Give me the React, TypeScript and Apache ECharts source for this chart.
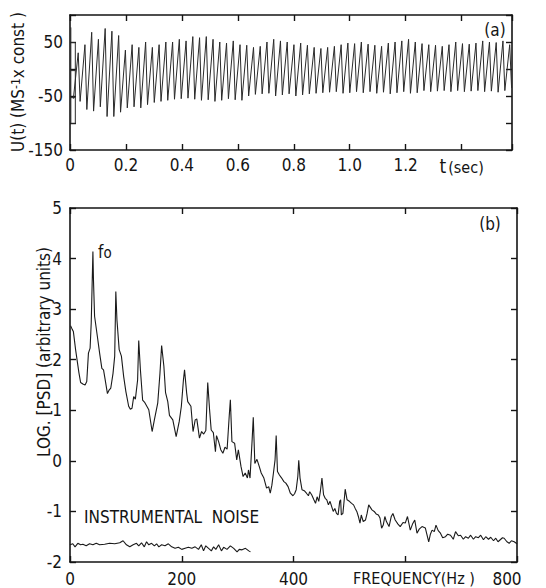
import React, { useEffect, useRef } from "react";
import * as echarts from "echarts";

// ---- Panel (a): time signal U(t) ----
const SIGNAL_PERIOD = 0.0241; // s (f0 ≈ 41 Hz)
const SIGNAL_START = 0.012; // s
const cyclePeaks = [30, 45, 68, 55, 75, 70, 62, 35, 45, 40, 50, 40, 45, 50, 50, 55, 52, 60, 58, 60, 55, 50, 48, 52, 45, 44, 40, 42, 50, 55, 52, 50, 45, 48, 44, 40, 38, 40, 42, 45, 48, 47, 50, 46, 44, 42, 48, 50, 52, 55, 50, 47, 45, 44, 42, 45, 50, 47, 46, 48, 52, 50, 49, 52, 45];
const cycleTroughs = [-55, -60, -75, -78, -70, -88, -88, -80, -72, -70, -72, -66, -62, -60, -58, -56, -55, -54, -56, -58, -57, -60, -58, -55, -57, -58, -50, -47, -46, -45, -50, -48, -46, -50, -48, -46, -45, -44, -43, -42, -45, -44, -42, -44, -42, -45, -43, -46, -44, -42, -45, -44, -40, -42, -41, -40, -42, -40, -42, -41, -40, -42, -41, -43, -40, -35];
const calibrationBox: any[] = [[0.003, 77], [0.003, -101], [0.019, -101], [0.019, 49], [0.003, 49], "-", [0.003, -3], [0.019, -3], "-", [0.003, -53], [0.019, -53]];
const timeTickLabels = ["0", "0.2", "0.4", "0.6", "0.8", "1.0", "1.2"];
const signalYLabels = [50, -50, -150];

// ---- Panel (b): LOG[PSD] spectrum ----
const spectrum: number[][] = [
  [1, 2.67], [4, 2.6], [6, 2.56], [10, 2.2], [16, 1.74], [19, 1.55], [23, 1.52], [27, 1.5], [30, 1.57], [33, 2.13], [36, 2.23], [38, 2.73], [41, 4.14], [42, 3.58], [44, 2.86], [49, 2.46], [53, 2.13], [57, 1.83], [60, 1.8], [63, 1.6], [67, 1.33], [70, 1.4], [73, 1.44], [77, 1.73], [80, 2.07], [82, 3.35], [84, 2.79], [88, 2.2], [92, 2.07], [96, 1.67], [100, 1.37], [105, 1.08], [108, 1.02], [111, 1.04], [114, 1.27], [117, 1.22], [121, 1.6], [123, 2.38], [126, 1.8], [130, 1.2], [134, 1.15], [141, 1.01], [147, 0.58], [151, 0.81], [157, 1.14], [161, 1.73], [164, 2.28], [168, 1.87], [171, 1.35], [175, 1.17], [178, 0.9], [184, 0.81], [190, 0.48],
  [195.5, 0.78], [199.3, 1.08], [203, 1.6], [205, 1.8], [208.8, 1.34], [210.7, 1.17], [216.4, 1.08], [220.2, 0.58], [224.1, 0.81], [226.9, 0.83], [231.7, 0.45], [235.5, 0.58], [239.3, 0.53], [243.1, 0.6], [246.5, 1.55], [249.8, 1.01], [252.7, 0.61], [256.5, 0.56], [260.3, 0.18], [262.2, 0.5], [266, 0.38], [269.8, 0.22], [273.6, 0.15], [277.4, 0.27], [281.2, 0.23], [285.1, 0.91], [287, 1.21], [289.8, 0.38], [294.6, 0.35], [298.4, 0.02], [301.3, 0.22], [306, -0.11], [309.8, -0.31], [313.6, -0.24], [317.5, -0.34], [319.4, -0.18], [322.2, -0.34], [326, 0.42], [328, 0.86], [330.8, -0.05], [334.6, 0.03], [338.4, -0.1], [342.2, -0.24], [347, -0.34], [351.8, -0.54], [355.6, -0.51], [358.4, -0.64], [361.3, -0.48], [364.1, -0.24], [367, 0.02], [369, 0.5],
  [371.3, -0.21], [374.8, -0.28], [378.8, -0.34], [382.8, -0.41], [386.3, -0.44], [390.3, -0.51], [394.4, -0.64], [399, -0.69], [401.9, -0.65], [404.8, -0.57], [407.7, -0.31], [409.4, 0.01], [411.7, -0.34], [415.2, -0.57], [419.2, -0.59], [423.2, -0.64], [426.7, -0.69], [429, -0.61], [432.5, -0.67], [436.5, -0.77], [439.4, -0.84], [442.3, -0.71], [445.2, -0.8], [448, -0.61], [450.9, -0.34], [453.8, -0.67], [456.7, -0.74], [459.6, -0.77], [462.5, -0.87], [465.4, -0.8], [468.2, -0.9], [471.1, -1.0], [474, -0.94], [476.9, -1.04], [479.8, -1.07], [482.7, -0.8], [484.4, -0.77], [485.6, -1.07], [488.4, -1.04], [491.3, -0.71], [492.5, -0.56], [495.9, -0.77], [500, -0.8], [504, -0.84], [507.5, -0.87], [510.4, -0.94], [513.3, -1.0], [516.1, -1.1], [519, -1.23], [521.3, -1.07], [524.8, -1.2], [528.8, -1.17], [531.7, -1.04], [534.6, -0.87], [537.5, -0.92], [540.4, -0.97], [544.4, -1.0], [547.9, -1.05], [551.9, -1.07], [554.8, -1.13], [557.7, -1.33], [560.6, -1.27], [563.5, -1.1], [566.3, -1.2], [571, -1.3], [575, -1.1], [577.9, -1.04],
  [582, -1.17], [587, -1.25], [591, -1.3], [596, -1.22], [600, -1.23], [604, -1.1], [609, -1.37], [613, -1.25], [617, -1.17], [621, -1.43], [625, -1.35], [630, -1.3], [636, -1.33], [642, -1.6], [645, -1.45], [648, -1.37], [652, -1.4], [655, -1.27], [659, -1.38], [663, -1.43], [667, -1.52], [672, -1.5], [676, -1.45], [681, -1.47], [686, -1.55], [690, -1.4], [695, -1.48], [699, -1.47], [704, -1.55], [708, -1.5], [713, -1.53], [717, -1.47], [722, -1.55], [726, -1.5], [731, -1.52], [735, -1.47], [740, -1.56], [744, -1.5], [749, -1.55], [753, -1.51], [758, -1.58], [762, -1.53], [766, -1.6], [770, -1.56], [774, -1.52], [777, -1.53], [782, -1.6], [786, -1.63], [790, -1.58], [795, -1.6], [800, -1.64],
];
const instrumentalNoise: number[][] = [
  [0, -1.66], [5, -1.64], [9, -1.7], [14, -1.63], [19, -1.66], [23, -1.65], [29, -1.68], [35, -1.64], [41, -1.66], [47, -1.63], [53, -1.66], [62, -1.65], [71, -1.63], [80, -1.64], [89, -1.62], [95, -1.58], [101, -1.66], [107, -1.7], [113, -1.66], [119, -1.63], [123, -1.68], [128, -1.62], [133, -1.7], [137, -1.6], [141, -1.66], [146, -1.63], [151, -1.68], [155, -1.64], [159, -1.7], [164, -1.66], [170, -1.68], [176, -1.64], [182, -1.7], [188, -1.73], [194, -1.71], [200, -1.75], [206, -1.73], [212, -1.71], [218, -1.73], [224, -1.7], [230, -1.75], [235, -1.66], [239, -1.78], [243, -1.68], [248, -1.73], [253, -1.78], [257, -1.7], [261, -1.75], [266, -1.66], [271, -1.78], [275, -1.71], [281, -1.75], [287, -1.68], [293, -1.73], [299, -1.8], [303, -1.75], [308, -1.76], [314, -1.73], [320, -1.78], [323, -1.8],
];
const freqTickLabels = ["0", "200", "400", "", "800"];
const psdTickLabels = ["-2", "-1", "0", "1", "2", "3", "4", "5"];

const FONT = '"DejaVu Sans Condensed", "DejaVu Sans", sans-serif';
const INK = "#141414";

function buildSignal(): number[][] {
  const pts: number[][] = [];
  for (let k = 0; k < cyclePeaks.length; k++) {
    const t0 = SIGNAL_START + k * SIGNAL_PERIOD;
    pts.push([t0, cycleTroughs[k]]);
    pts.push([t0 + 0.72 * SIGNAL_PERIOD, cyclePeaks[k]]);
  }
  pts.push([SIGNAL_START + cyclePeaks.length * SIGNAL_PERIOD, cycleTroughs[cyclePeaks.length]]);
  return pts;
}

const lineAxis = { show: true, onZero: false, lineStyle: { color: INK, width: 1.6 } };
const inTick = { show: true, inside: true, length: 6, lineStyle: { color: INK, width: 1.4 } };
const labelStyle = { color: INK, fontFamily: FONT, fontSize: 17 };

export default function App() {
  const ref = useRef<HTMLDivElement>(null);
  useEffect(() => {
    document.body.style.margin = "0";
    const chart = echarts.init(ref.current!, null, { renderer: "svg" });
    const isMult = (v: number, s: number) => Math.abs(v / s - Math.round(v / s)) < 1e-6;
    const option: any = {
      animation: false,
      backgroundColor: "#ffffff",
      grid: [
        { left: 70, top: 15, width: 442, height: 135 },
        { left: 70, top: 208, width: 447, height: 354 },
      ],
      xAxis: [
        {
          gridIndex: 0, type: "value", min: 0, max: 1.58, interval: 0.2, position: "bottom",
          axisLine: lineAxis, axisTick: inTick, splitLine: { show: false },
          axisLabel: {
            ...labelStyle, margin: 6,
            formatter: (v: number) => {
              if (!isMult(v, 0.2)) return "";
              const i = Math.round(v / 0.2);
              if (i < timeTickLabels.length) return timeTickLabels[i];
              if (i === 7) return "{t|t}{s|(sec)}";
              return "";
            },
            rich: { t: { fontFamily: FONT, fontSize: 19, color: INK }, s: { fontFamily: FONT, fontSize: 16, color: INK, padding: [3, 0, 0, 2] } },
          },
        },
        {
          gridIndex: 0, type: "value", min: 0, max: 1.58, interval: 0.2, position: "top",
          axisLine: lineAxis, axisTick: inTick, axisLabel: { show: false }, splitLine: { show: false },
        },
        {
          gridIndex: 1, type: "value", min: 0, max: 800, interval: 200, position: "bottom",
          axisLine: lineAxis, axisTick: inTick, splitLine: { show: false },
          axisLabel: {
            ...labelStyle, margin: 8,
            formatter: (v: number) => {
              const i = Math.round(v / 200);
              if (i === 4) return "{e|800}";
              return freqTickLabels[i] ?? "";
            },
            rich: { e: { fontFamily: FONT, fontSize: 17, color: INK, padding: [0, 20, 0, 0] } },
          },
        },
        {
          gridIndex: 1, type: "value", min: 0, max: 800, interval: 200, position: "top",
          axisLine: lineAxis, axisTick: inTick, axisLabel: { show: false }, splitLine: { show: false },
        },
      ],
      yAxis: [
        {
          gridIndex: 0, type: "value", min: -150, max: 100, interval: 50, position: "left",
          axisLine: lineAxis, axisTick: inTick, splitLine: { show: false },
          axisLabel: {
            ...labelStyle, margin: 7,
            formatter: (v: number) => (signalYLabels.includes(v) ? String(v) : ""),
          },
        },
        {
          gridIndex: 0, type: "value", min: -150, max: 100, interval: 50, position: "right",
          axisLine: lineAxis, axisTick: inTick, axisLabel: { show: false }, splitLine: { show: false },
        },
        {
          gridIndex: 1, type: "value", min: -2, max: 5, interval: 1, position: "left",
          axisLine: lineAxis, axisTick: inTick, splitLine: { show: false },
          axisLabel: {
            ...labelStyle, margin: 8,
            formatter: (v: number) => psdTickLabels[Math.round(v) + 2] ?? "",
          },
        },
        {
          gridIndex: 1, type: "value", min: -2, max: 5, interval: 1, position: "right",
          axisLine: lineAxis, axisTick: inTick, axisLabel: { show: false }, splitLine: { show: false },
        },
      ],
      series: [
        {
          type: "line", xAxisIndex: 0, yAxisIndex: 0, data: buildSignal(), showSymbol: false,
          lineStyle: { color: "#2a2a2a", width: 1 }, silent: true,
        },
        {
          type: "line", xAxisIndex: 0, yAxisIndex: 0, data: calibrationBox, showSymbol: false, connectNulls: false,
          lineStyle: { color: "#2a2a2a", width: 1 }, silent: true,
        },
        {
          type: "line", xAxisIndex: 2, yAxisIndex: 2, data: spectrum, showSymbol: false,
          lineStyle: { color: "#1a1a1a", width: 1.1 }, silent: true,
        },
        {
          type: "line", xAxisIndex: 2, yAxisIndex: 2, data: instrumentalNoise, showSymbol: false,
          lineStyle: { color: "#1a1a1a", width: 1.1 }, silent: true,
        },
      ],
      graphic: [
        {
          type: "text", x: 18, y: 82, rotation: Math.PI / 2,
          style: {
            text: "{a|U(t) (MS}{s|-1}{a|x const )}",
            align: "center", verticalAlign: "middle",
            rich: {
              a: { fontFamily: FONT, fontSize: 17, fill: INK, verticalAlign: "bottom" },
              s: { fontFamily: FONT, fontSize: 12, fill: INK, verticalAlign: "top" },
            },
          },
        },
        {
          type: "text", x: 44, y: 352, rotation: Math.PI / 2,
          style: { text: "LOG. [PSD] (arbitrary units)", font: `17px ${FONT}`, fill: INK, align: "center", verticalAlign: "middle" },
        },
        { type: "text", x: 495, y: 30, style: { text: "(a)", font: `17px ${FONT}`, fill: INK, align: "center", verticalAlign: "middle" } },
        { type: "text", x: 490, y: 224, style: { text: "(b)", font: `17px ${FONT}`, fill: INK, align: "center", verticalAlign: "middle" } },
        {
          type: "text", x: 98, y: 252,
          style: {
            text: "{f|f}{o|o}", align: "left", verticalAlign: "middle",
            rich: {
              f: { fontFamily: FONT, fontSize: 17, fill: INK, verticalAlign: "top" },
              o: { fontFamily: FONT, fontSize: 15, fill: INK, verticalAlign: "bottom" },
            },
          },
        },
        { type: "text", x: 84, y: 517, style: { text: "INSTRUMENTAL  NOISE", font: `17px ${FONT}`, fill: INK, align: "left", verticalAlign: "middle" } },
        { type: "text", x: 414, y: 578, style: { text: "FREQUENCY(Hz )", font: `16px ${FONT}`, fill: INK, align: "center", verticalAlign: "middle" } },
      ],
    };
    chart.setOption(option);
    return () => chart.dispose();
  }, []);
  return <div ref={ref} style={{ width: 546, height: 588 }} />;
}
